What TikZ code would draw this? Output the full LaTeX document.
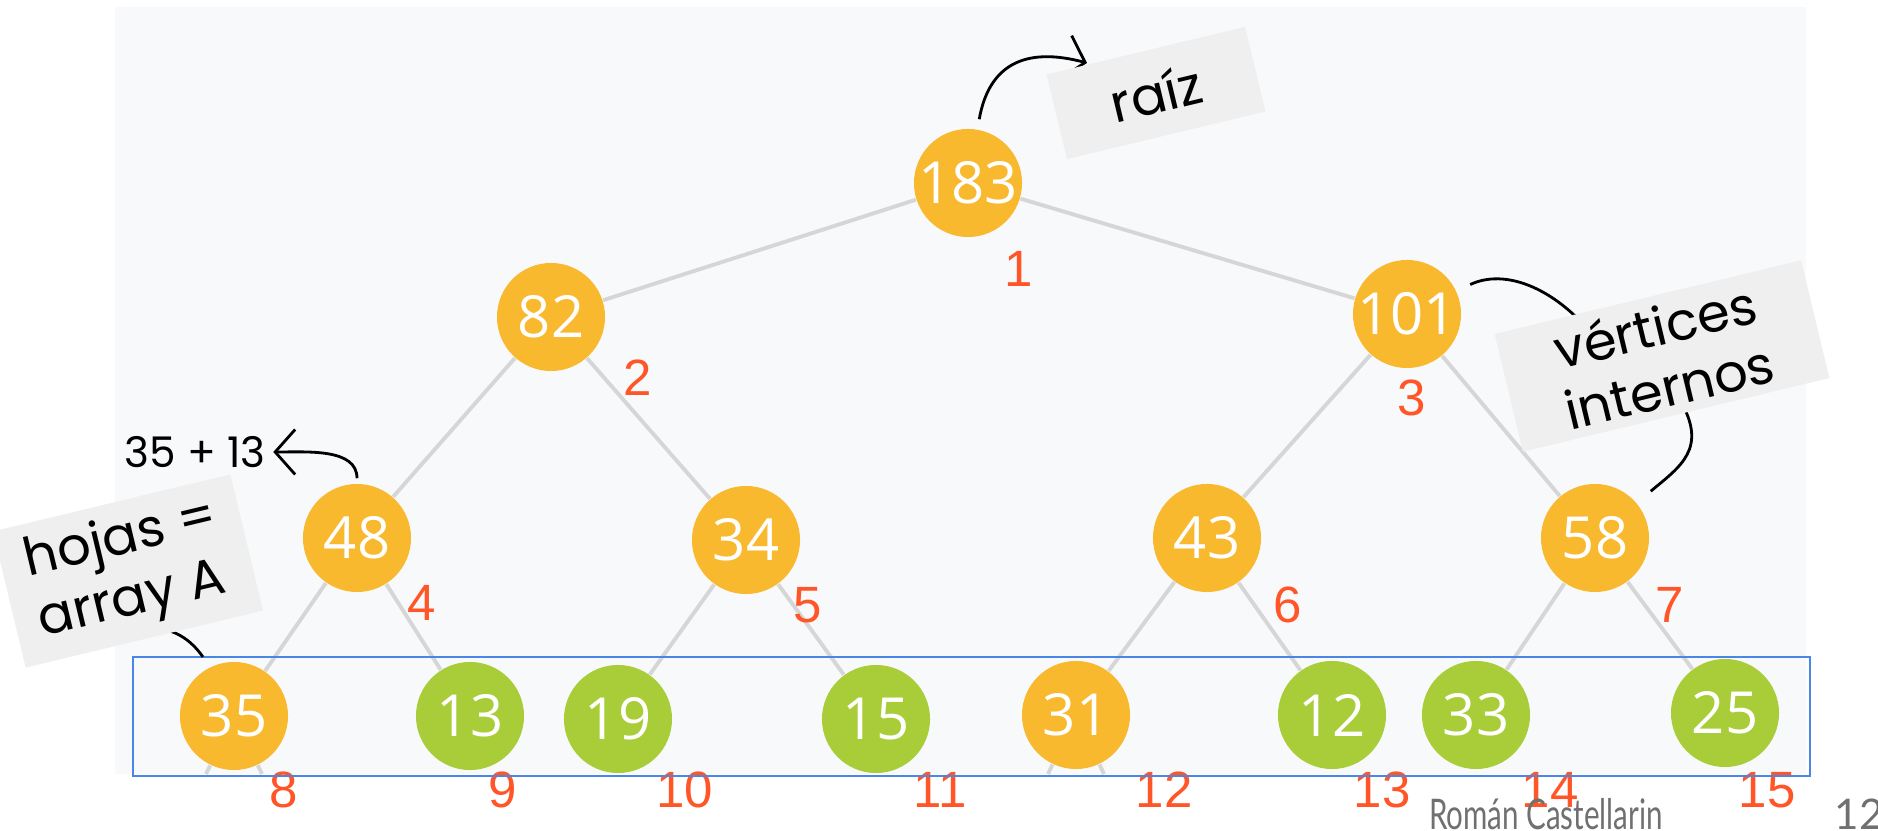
\documentclass[tikz,border=0pt]{standalone}
\usepackage{fontspec}
\usepackage{xcolor}
\usepackage{tikz}
\usetikzlibrary{
    shapes,
    positioning,
    calc,
    arrows.meta
}
\newfontfamily\numfont{Open Sans}
\newfontfamily\idxfont{Liberation Sans}
\newfontfamily\handfont{Poppins}
\newfontfamily\footfont{Lato}
\definecolor{nodeorange}{HTML}{F9B92F}
\definecolor{leafgreen}{HTML}{A9CD38}
\definecolor{idxred}{HTML}{FF5527}
\definecolor{edgegray}{HTML}{D6D6D6}
\definecolor{panel}{HTML}{F8F9FA}
\definecolor{notebox}{HTML}{EFEFEF}
\definecolor{arrayblue}{HTML}{4A86E8}
\definecolor{footgray}{HTML}{707070}
\tikzset{
  vertex/.style = {
      circle,
      fill=nodeorange,
      text=white,
      minimum size=1.08cm,
      inner sep=0pt,
      font=\numfont\fontsize{16.5}{18}\selectfont
  },
  leaf/.style = {
      vertex,
      fill=leafgreen
  },
  idx/.style = {
      text=idxred,
      inner sep=0pt,
      font=\idxfont\fontsize{14.5}{16}\selectfont
  },
  edge/.style = {
      draw=edgegray,
      line width=1.1pt
  },
  memo/.style = {
      fill=notebox,
      rotate=13.5,
      align=center,
      inner sep=0pt,
      font=\handfont\fontsize{15}{17.5}\selectfont
  },
  sumtext/.style = {
      inner sep=2pt,
      font=\handfont\fontsize{12}{13}\selectfont
  },
  hand/.style = {
      draw=black,
      line width=0.8pt
  },
  pointer/.style = {
      hand,
      -{Straight Barb[length=2mm,width=4.5mm]}
  },
  foot/.style = {
      text=footgray,
      inner sep=0pt,
      font=\footfont\fontsize{12}{13}\selectfont
  }
}

\begin{document}
\begin{tikzpicture}[x=0.01cm, y=0.01cm]
        \useasboundingbox (0,0) rectangle (1878,-831);
        \fill[panel] (115,-7) rectangle (1806,-774);
        % Tree
        \node[vertex] (n1) at (968,-183) {183};
        \node[vertex] (n2) at (551,-317) {82};
        \node[vertex] (n3) at (1407,-314) {101};
        \node[vertex] (n4) at (357,-538) {48};
        \node[vertex] (n5) at (746,-540) {34};
        \node[vertex] (n6) at (1207,-538) {43};
        \node[vertex] (n7) at (1595,-538) {58};
        \node[vertex] (n8) at (234,-716) {35};
        \node[leaf] (n9) at (470,-716) {13};
        \node[leaf] (n10) at (618,-719) {19};
        \node[leaf] (n11) at (876,-719) {15};
        \node[vertex] (n12) at (1076,-715) {31};
        \node[leaf] (n13) at (1332,-715) {12};
        \node[leaf] (n14) at (1476,-715) {33};
        \node[leaf] (n15) at (1725,-713) {25};
        \coordinate (c16) at (206,-774);
        \coordinate (c17) at (262,-774);
        \coordinate (c24) at (1048,-774);
        \coordinate (c25) at (1104,-774);
        % Edges
        \draw[edge] (n1) -- (n2);
        \draw[edge] (n1) -- (n3);
        \draw[edge] (n2) -- (n4);
        \draw[edge] (n2) -- (n5);
        \draw[edge] (n3) -- (n6);
        \draw[edge] (n3) -- (n7);
        \draw[edge] (n4) -- (n8);
        \draw[edge] (n4) -- (n9);
        \draw[edge] (n5) -- (n10);
        \draw[edge] (n5) -- (n11);
        \draw[edge] (n6) -- (n12);
        \draw[edge] (n6) -- (n13);
        \draw[edge] (n7) -- (n14);
        \draw[edge] (n7) -- (n15);
        \draw[edge] (n8) -- (c16);
        \draw[edge] (n8) -- (c17);
        \draw[edge] (n12) -- (c24);
        \draw[edge] (n12) -- (c25);
        % Indices
        \node[idx] (i1) at (1019,-269) {1};
        \node[idx] (i2) at (638,-378) {2};
        \node[idx] (i3) at (1412,-398) {3};
        \node[idx] (i4) at (422,-603) {4};
        \node[idx] (i5) at (808,-605) {5};
        \node[idx] (i6) at (1288,-605) {6};
        \node[idx] (i7) at (1670,-605) {7};
        \node[idx] (i8) at (284,-790) {8};
        \node[idx] (i9) at (503,-790) {9};
        \node[idx] (i10) at (685,-790) {10};
        \node[idx] (i11) at (940,-790) {11};
        \node[idx] (i12) at (1164,-790) {12};
        \node[idx] (i13) at (1382,-790) {13};
        \node[idx] (i14) at (1550,-790) {14};
        \node[idx] (i15) at (1767,-790) {15};
        % Array A
        \draw[arrayblue, line width=0.6pt] (133,-657) rectangle (1810,-776);
        % Notes
        \coordinate (raiztip) at (1087,-63);
        \coordinate (vtip1) at (1600,-345);
        \coordinate (vtip2) at (1680,-400);
        \coordinate (hojasfrom) at (140,-628);
        \coordinate (hojastip) at (203,-657);
        \node[sumtext] (sum) at (195,-452) {35 + 13};
        \draw[pointer, shorten <=0.1cm, looseness=1.3] (n1) to[out=80,in=165] (raiztip);
        \draw[pointer, shorten <=0.05cm] (n4) to[out=90,in=0] (sum);
        \draw[hand, shorten <=0.15cm] (n3) to[out=25,in=125] (vtip1);
        \draw[hand, shorten >=0.18cm, looseness=1.3] (vtip2) to[out=-60,in=40] (n7);
        \draw[hand] (hojasfrom) to[out=5,in=125] (hojastip);
        \node[memo, minimum width=2.04cm, minimum height=0.87cm] (raiz) at (1156,-93) {raíz};
        \node[memo, minimum width=3.15cm, minimum height=1.21cm] (vert) at (1662,-356) {vértices\\internos};
        \node[memo, minimum width=2.44cm, minimum height=1.40cm, align=left] (hojas) at (128,-571) {hojas =\\array A};
        % Footer
        \node[foot] (author) at (1546,-814) {\scalebox{0.7}[1]{Román Castellarin}};
        \node[foot] (page) at (1859,-814) {12};
    \end{tikzpicture}
\end{document}
